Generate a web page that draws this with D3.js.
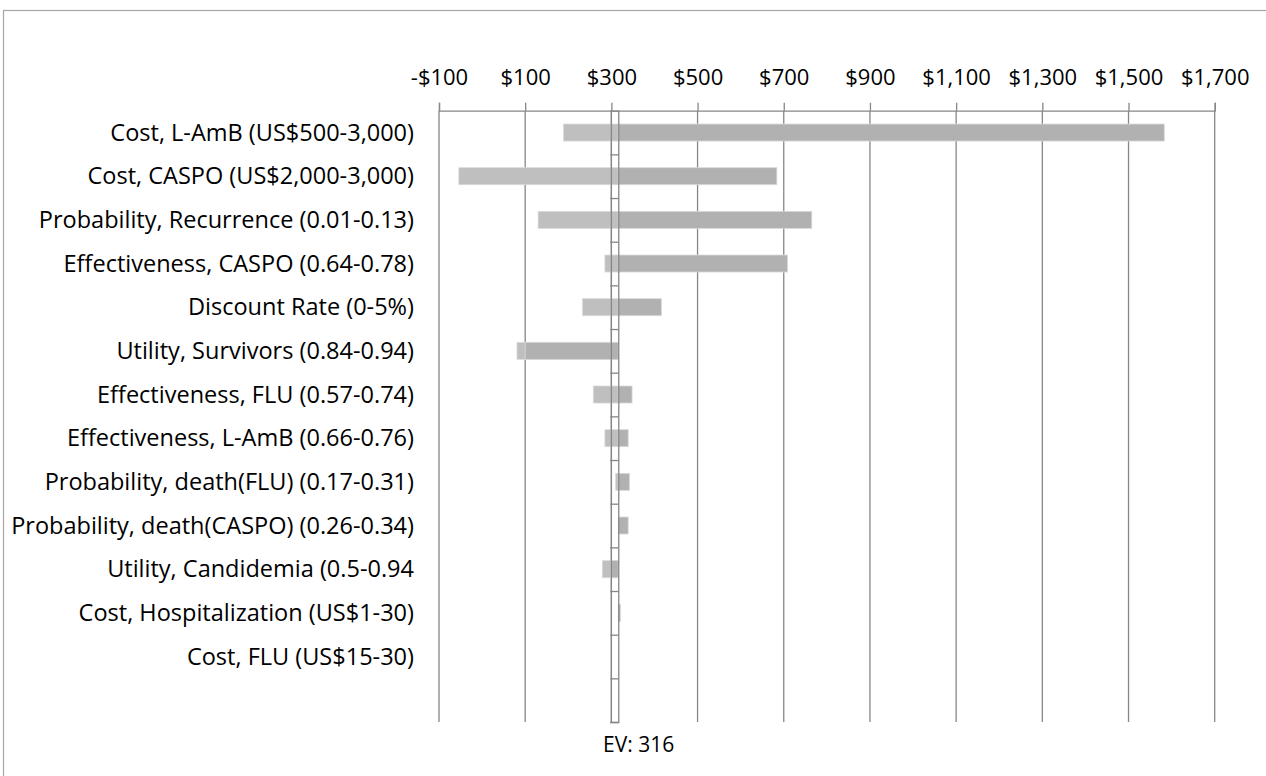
<!DOCTYPE html>
<html lang="en">
<head>
    <meta charset="UTF-8">
    <title>Tornado diagram</title>
    <script src="https://d3js.org/d3.v7.min.js"></script>
    <style>
        body { margin: 0; background: #fff; }
        text { font-family: "Open Sans", "Noto Sans", sans-serif; fill: #000; }
    </style>
</head>
<body>
    <script>
        // categories, top to bottom (last row of the chart is empty)
        var categories = [
            "Cost, L-AmB (US$500-3,000)",
            "Cost, CASPO (US$2,000-3,000)",
            "Probability, Recurrence (0.01-0.13)",
            "Effectiveness, CASPO (0.64-0.78)",
            "Discount Rate (0-5%)",
            "Utility, Survivors (0.84-0.94)",
            "Effectiveness, FLU (0.57-0.74)",
            "Effectiveness, L-AmB (0.66-0.76)",
            "Probability, death(FLU) (0.17-0.31)",
            "Probability, death(CASPO) (0.26-0.34)",
            "Utility, Candidemia (0.5-0.94",
            "Cost, Hospitalization (US$1-30)",
            "Cost, FLU (US$15-30)",
            ""
        ];
        // expected value at each end of the input range
        var lowValues  = [189, -54, 130, 285, 233,  81, 258, 285, 310, 316, 279, 316, 316, null];
        var highValues = [1583, 684, 765, 709, 416, 100, 348, 339, 342, 339, 299, 321, 316, null];
        var ev = 316;
        var tickValues = [-100, 100, 300, 500, 700, 900, 1100, 1300, 1500, 1700];

        var width = 1266, height = 776;
        var svg = d3.select("body").append("svg")
                    .attr("width", width)
                    .attr("height", height);

        // outer chart frame (runs off the bottom and right of the picture)
        svg.append("rect")
            .attr("x", 3.5).attr("y", 10.5)
            .attr("width", 1300).attr("height", 800)
            .attr("fill", "none")
            .attr("stroke", "#a6a6a6")
            .attr("stroke-width", 1.2);

        var x = d3.scaleLinear().domain([-100, 1700]).range([439, 1214.7]);
        var y = d3.scaleBand()
                  .domain(d3.range(categories.length))
                  .range([110.7, 722])
                  .paddingInner(0.61)
                  .paddingOuter(0.305);

        var gridColor = "#868686";

        // vertical gridlines behind the bars
        svg.append("g").selectAll("line")
            .data(tickValues)
            .enter().append("line")
            .attr("x1", d => x(d)).attr("x2", d => x(d))
            .attr("y1", 110.7).attr("y2", 722)
            .attr("stroke", gridColor)
            .attr("stroke-width", 1.3);

        // value axis on top
        var fmt = d3.format(",");
        var axis = d3.axisTop(x)
                     .tickValues(tickValues)
                     .tickSize(8)
                     .tickPadding(18)
                     .tickFormat(d => (d < 0 ? "-$" : "$") + fmt(Math.abs(d)));
        var gAxis = svg.append("g")
            .attr("transform", "translate(0,110.7)")
            .call(axis);
        gAxis.select(".domain").attr("stroke", gridColor).attr("stroke-width", 1.3);
        gAxis.selectAll(".tick line").attr("stroke", gridColor).attr("stroke-width", 1.3);
        gAxis.selectAll(".tick text")
            .attr("font-size", 22)
            .attr("fill", "#000")
            .style("font-family", "'Open Sans', 'Noto Sans', sans-serif");

        var rows = categories.map(function(c, i) {
            return { i: i, name: c, low: lowValues[i], high: highValues[i] };
        }).filter(d => d.low !== null);

        // light series (input at low end), then dark series on top
        function bar(sel, key, fill) {
            sel.selectAll("rect." + key)
                .data(rows)
                .enter().append("rect")
                .attr("class", key)
                .attr("x", d => Math.min(x(ev), x(d[key])))
                .attr("y", d => y(d.i))
                .attr("width", d => Math.abs(x(d[key]) - x(ev)))
                .attr("height", y.bandwidth())
                .attr("fill", fill)
                .attr("stroke", d => Math.abs(d[key] - ev) > 1 ? "#dadada" : "none")
                .attr("stroke-width", 0.8);
        }
        var gBars = svg.append("g");
        bar(gBars, "low", "#bfbfbf");
        bar(gBars, "high", "#b1b1b1");

        // $300 line and the category axis crossing at EV, with its ticks
        svg.append("line")
            .attr("x1", x(300)).attr("x2", x(300))
            .attr("y1", 110.7).attr("y2", 722)
            .attr("stroke", gridColor).attr("stroke-width", 1.3);
        var yAxis = d3.axisLeft(d3.scaleLinear().domain([0, categories.length]).range([110.7, 722]))
                      .tickValues(d3.range(1, categories.length + 1))
                      .tickSize(8)
                      .tickFormat("");
        var gY = svg.append("g")
            .attr("transform", "translate(" + x(ev) + ",0)")
            .call(yAxis);
        gY.select(".domain").attr("stroke", gridColor).attr("stroke-width", 1.3);
        gY.selectAll(".tick line").attr("stroke", gridColor).attr("stroke-width", 1.3);

        // category labels, sized so the longest fits the label column
        var labels = svg.append("g").selectAll("text")
            .data(categories)
            .enter().append("text")
            .attr("x", 414)
            .attr("y", (d, i) => y(i) + y.bandwidth() / 2)
            .attr("dy", "0.35em")
            .attr("text-anchor", "end")
            .attr("font-size", 20)
            .text(d => d);
        var longest = d3.max(labels.nodes(), n => n.getComputedTextLength());
        labels.attr("font-size", 20 * 403 / longest);

        svg.append("text")
            .attr("x", 603)
            .attr("y", 752)
            .attr("font-size", 21)
            .text("EV: " + ev);
    </script>
</body>
</html>
